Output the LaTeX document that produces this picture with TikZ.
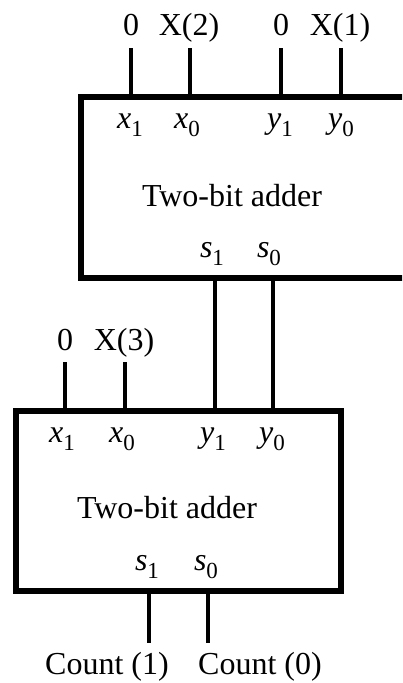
\documentclass[tikz,border=0pt]{standalone}
\usepackage{fontspec}
\setmainfont{Liberation Serif}
\newcommand{\portlbl}[2]{\textit{#1}\raisebox{-0.28em}{\fontsize{23}{23}\selectfont #2}}
\begin{document}
\begin{tikzpicture}[x=1pt,y=-1pt,
  lbl/.style={font=\fontsize{32}{32}\selectfont, inner sep=0pt, anchor=base},
  adder/.style={draw, line width=5.5pt, rectangle, inner sep=0pt},
  wire/.style={line width=3.5pt}]
\useasboundingbox (0,0) rectangle (402,683);
\clip (0,0) rectangle (402,683);
% boxes
\node[adder, minimum width=340pt, minimum height=181pt] (A) at (251,187.5) {};
\node[adder, minimum width=325pt, minimum height=180pt] (B) at (178.5,501) {};
% top adder labels
\node[lbl] (ax1) at (130,128) {\portlbl{x}{1}};
\node[lbl] (ax0) at (187,128) {\portlbl{x}{0}};
\node[lbl] (ay1) at (280,128) {\portlbl{y}{1}};
\node[lbl] (ay0) at (341,128) {\portlbl{y}{0}};
\node[lbl] (at) at (232,206) {Two-bit adder};
\node[lbl] (as1) at (212,257) {\portlbl{s}{1}};
\node[lbl] (as0) at (269,257) {\portlbl{s}{0}};
% lower adder labels
\node[lbl] (bx1) at (62,442) {\portlbl{x}{1}};
\node[lbl] (bx0) at (122,442) {\portlbl{x}{0}};
\node[lbl] (by1) at (213,442) {\portlbl{y}{1}};
\node[lbl] (by0) at (272,442) {\portlbl{y}{0}};
\node[lbl] (bt) at (167,518) {Two-bit adder};
\node[lbl] (bs1) at (147,570) {\portlbl{s}{1}};
\node[lbl] (bs0) at (206,570) {\portlbl{s}{0}};
% input labels
\node[lbl] (i1) at (131,35) {0};
\node[lbl] (i2) at (189,35) {X(2)};
\node[lbl] (i3) at (281,35) {0};
\node[lbl] (i4) at (340,35) {X(1)};
\node[lbl] (i5) at (65,350) {0};
\node[lbl] (i6) at (124,350) {X(3)};
\node[lbl] (o1) at (107,674) {Count (1)};
\node[lbl] (o0) at (260,674) {Count (0)};
% wire ends
\coordinate (w1) at (131,48);
\coordinate (w2) at (190,48);
\coordinate (w3) at (281,48);
\coordinate (w4) at (341,48);
\coordinate (w5) at (65,362);
\coordinate (w6) at (125,362);
\coordinate (c1) at (215,278);
\coordinate (c0) at (273,278);
\coordinate (e1) at (149,643);
\coordinate (e0) at (208,643);
% wires
\foreach \w in {w1,w2,w3,w4}{\draw[wire] (\w) -- (\w |- A.north);}
\foreach \w in {w5,w6}{\draw[wire] (\w) -- (\w |- B.north);}
\draw[wire] (c1 |- A.south) -- (c1 |- B.north);
\draw[wire] (c0 |- A.south) -- (c0 |- B.north);
\draw[wire] (e1 |- B.south) -- (e1);
\draw[wire] (e0 |- B.south) -- (e0);
\end{tikzpicture}
\end{document}
